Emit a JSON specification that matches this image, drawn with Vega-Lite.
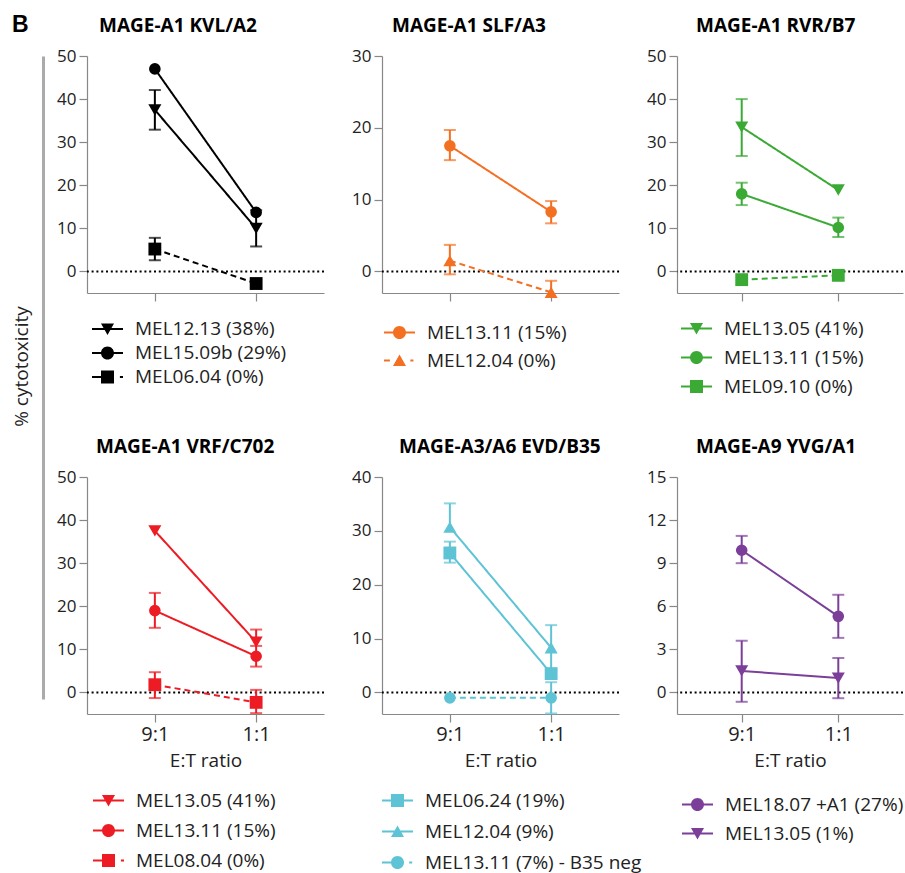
{
"$schema": "https://vega.github.io/schema/vega-lite/v6.json",
"padding": {"left": 12, "top": 14, "right": 0, "bottom": 0},
"data": {"values": [
{"panel":"KVL","series":"MEL12.13 (38%)","ratio":"9:1","value":37.5,"lo":32.9,"hi":42.1},
{"panel":"KVL","series":"MEL12.13 (38%)","ratio":"1:1","value":10.0,"lo":5.8,"hi":14.2},
{"panel":"KVL","series":"MEL15.09b (29%)","ratio":"9:1","value":47.0,"lo":null,"hi":null},
{"panel":"KVL","series":"MEL15.09b (29%)","ratio":"1:1","value":13.7,"lo":null,"hi":null},
{"panel":"KVL","series":"MEL06.04 (0%)","ratio":"9:1","value":5.2,"lo":2.6,"hi":7.8},
{"panel":"KVL","series":"MEL06.04 (0%)","ratio":"1:1","value":-2.8,"lo":null,"hi":null},
{"panel":"SLF","series":"MEL13.11 (15%)","ratio":"9:1","value":17.5,"lo":15.5,"hi":19.7},
{"panel":"SLF","series":"MEL13.11 (15%)","ratio":"1:1","value":8.3,"lo":6.7,"hi":9.8},
{"panel":"SLF","series":"MEL12.04 (0%)","ratio":"9:1","value":1.5,"lo":-0.4,"hi":3.7},
{"panel":"SLF","series":"MEL12.04 (0%)","ratio":"1:1","value":-2.9,"lo":null,"hi":-1.3},
{"panel":"RVR","series":"MEL13.05 (41%)","ratio":"9:1","value":33.5,"lo":26.8,"hi":40.0},
{"panel":"RVR","series":"MEL13.05 (41%)","ratio":"1:1","value":18.9,"lo":null,"hi":null},
{"panel":"RVR","series":"MEL13.11 (15%)","ratio":"9:1","value":18.0,"lo":15.4,"hi":20.6},
{"panel":"RVR","series":"MEL13.11 (15%)","ratio":"1:1","value":10.2,"lo":8.0,"hi":12.5},
{"panel":"RVR","series":"MEL09.10 (0%)","ratio":"9:1","value":-1.9,"lo":null,"hi":null},
{"panel":"RVR","series":"MEL09.10 (0%)","ratio":"1:1","value":-0.9,"lo":null,"hi":null},
{"panel":"VRF","series":"MEL13.05 (41%)","ratio":"9:1","value":37.5,"lo":null,"hi":null},
{"panel":"VRF","series":"MEL13.05 (41%)","ratio":"1:1","value":11.7,"lo":null,"hi":14.6},
{"panel":"VRF","series":"MEL13.11 (15%)","ratio":"9:1","value":19.0,"lo":15.0,"hi":23.1},
{"panel":"VRF","series":"MEL13.11 (15%)","ratio":"1:1","value":8.4,"lo":6.0,"hi":10.8},
{"panel":"VRF","series":"MEL08.04 (0%)","ratio":"9:1","value":1.8,"lo":-1.3,"hi":4.7},
{"panel":"VRF","series":"MEL08.04 (0%)","ratio":"1:1","value":-2.3,"lo":-4.8,"hi":0.6},
{"panel":"EVD","series":"MEL06.24 (19%)","ratio":"9:1","value":25.9,"lo":24.1,"hi":28.0},
{"panel":"EVD","series":"MEL06.24 (19%)","ratio":"1:1","value":3.5,"lo":null,"hi":null},
{"panel":"EVD","series":"MEL12.04 (9%)","ratio":"9:1","value":30.7,"lo":null,"hi":35.1},
{"panel":"EVD","series":"MEL12.04 (9%)","ratio":"1:1","value":8.3,"lo":4.1,"hi":12.5},
{"panel":"EVD","series":"MEL13.11 (7%) - B35 neg","ratio":"9:1","value":-1.0,"lo":null,"hi":null},
{"panel":"EVD","series":"MEL13.11 (7%) - B35 neg","ratio":"1:1","value":-1.0,"lo":-3.9,"hi":1.9},
{"panel":"YVG","series":"MEL18.07 +A1 (27%)","ratio":"9:1","value":9.9,"lo":9.0,"hi":10.9},
{"panel":"YVG","series":"MEL18.07 +A1 (27%)","ratio":"1:1","value":5.3,"lo":3.8,"hi":6.8},
{"panel":"YVG","series":"MEL13.05 (1%)","ratio":"9:1","value":1.5,"lo":-0.65,"hi":3.6},
{"panel":"YVG","series":"MEL13.05 (1%)","ratio":"1:1","value":1.0,"lo":-0.4,"hi":2.4}
]},
"config": {
 "view": {"stroke": null},
 "font": "Open Sans",
 "axis": {"domainColor": "#888", "tickColor": "#888", "tickSize": 8, "domainWidth": 1.2, "tickWidth": 1.2, "labelFont": "Open Sans", "labelColor": "#222", "titleFont": "Open Sans", "titleColor": "#222", "titleFontWeight": "normal", "grid": false},
 "axisY": {"labelFontSize": 17, "labelPadding": 3},
 "axisX": {"labelFontSize": 20, "labelPadding": 2, "labelAngle": 0, "titleFontSize": 19, "titlePadding": 7},
 "title": {"font": "Open Sans", "fontSize": 19, "fontWeight": "bold", "color": "#000", "anchor": "start", "frame": "group", "baseline": "alphabetic", "offset": 11},
 "legend": {"labelFont": "Open Sans", "labelFontSize": 19, "labelColor": "#222", "labelLimit": 0, "symbolSize": 961, "symbolStrokeWidth": 0, "symbolOpacity": 1, "labelOffset": 12, "padding": 0, "rowPadding": 0, "direction": "vertical"},
 "tick": {"thickness": 2}
},
"hconcat": [
 {
  "width": 1, "height": 643,
  "title": {"text": "B", "font": "Liberation Sans", "fontSize": 23, "fontWeight": "bold", "dx": -31, "offset": 16},
  "data": {"values": [{"v": 0}, {"v": 1}]},
  "mark": {"type": "point", "opacity": 0},
  "encoding": {"y": {"field": "v", "type": "quantitative", "axis": {"domainColor": "#aaa", "domainWidth": 3, "ticks": false, "labels": false, "title": "% cytotoxicity", "titleFontSize": 19, "titlePadding": 12, "titleY": 310}}}
 },
 {
  "vconcat": [
   {
    "hconcat": [
     {
      "width": 237, "height": 237,
      "title": {"text": "MAGE-A1 KVL/A2", "dx": 12},
      "transform": [{"filter": "datum.panel === 'KVL'"}],
      "layer": [
       {"transform": [{"aggregate": [{"op": "count", "as": "n"}]}], "mark": {"type": "rule", "color": "#000", "strokeWidth": 2, "strokeDash": [2, 2.8]}, "encoding": {"y": {"datum": 0, "type": "quantitative", "scale": {"domain": [-5, 50], "nice": false, "zero": false}, "axis": {"values": [0, 10, 20, 30, 40, 50], "title": null}}}},
       {"mark": {"type": "line", "color": "#000", "strokeWidth": 2}, "encoding": {"x": {"field": "ratio", "type": "ordinal", "sort": ["9:1", "1:1"], "scale": {"type": "point", "padding": 0.67}, "axis": {"labels": false, "title": null}}, "y": {"field": "value", "type": "quantitative", "scale": {"domain": [-5, 50], "nice": false, "zero": false}, "axis": {"values": [0, 10, 20, 30, 40, 50], "title": null}}, "strokeDash": {"field": "series", "type": "nominal", "scale": {"domain": ["MEL12.13 (38%)", "MEL15.09b (29%)", "MEL06.04 (0%)"], "range": [[1, 0], [1, 0], [6, 4]]}, "legend": null}}},
       {"transform": [{"filter": "datum.hi != null"}], "mark": {"type": "rule", "color": "#000", "strokeWidth": 2}, "encoding": {"x": {"field": "ratio", "type": "ordinal", "sort": ["9:1", "1:1"], "scale": {"type": "point", "padding": 0.67}, "axis": {"labels": false, "title": null}}, "y": {"field": "value", "type": "quantitative", "scale": {"domain": [-5, 50], "nice": false, "zero": false}, "axis": {"values": [0, 10, 20, 30, 40, 50], "title": null}}, "y2": {"field": "hi"}}},
       {"transform": [{"filter": "datum.hi != null"}], "mark": {"type": "tick", "color": "#000", "size": 12}, "encoding": {"x": {"field": "ratio", "type": "ordinal", "sort": ["9:1", "1:1"], "scale": {"type": "point", "padding": 0.67}, "axis": {"labels": false, "title": null}}, "y": {"field": "hi", "type": "quantitative", "scale": {"domain": [-5, 50], "nice": false, "zero": false}, "axis": {"values": [0, 10, 20, 30, 40, 50], "title": null}}}},
       {"transform": [{"filter": "datum.lo != null"}], "mark": {"type": "rule", "color": "#000", "strokeWidth": 2}, "encoding": {"x": {"field": "ratio", "type": "ordinal", "sort": ["9:1", "1:1"], "scale": {"type": "point", "padding": 0.67}, "axis": {"labels": false, "title": null}}, "y": {"field": "lo", "type": "quantitative", "scale": {"domain": [-5, 50], "nice": false, "zero": false}, "axis": {"values": [0, 10, 20, 30, 40, 50], "title": null}}, "y2": {"field": "value"}}},
       {"transform": [{"filter": "datum.lo != null"}], "mark": {"type": "tick", "color": "#000", "size": 12}, "encoding": {"x": {"field": "ratio", "type": "ordinal", "sort": ["9:1", "1:1"], "scale": {"type": "point", "padding": 0.67}, "axis": {"labels": false, "title": null}}, "y": {"field": "lo", "type": "quantitative", "scale": {"domain": [-5, 50], "nice": false, "zero": false}, "axis": {"values": [0, 10, 20, 30, 40, 50], "title": null}}}},
       {"transform": [{"filter": "datum.series === 'MEL12.13 (38%)'"}], "mark": {"type": "point", "filled": true, "opacity": 1, "size": 170, "shape": "triangle-down", "color": "#000"}, "encoding": {"x": {"field": "ratio", "type": "ordinal", "sort": ["9:1", "1:1"], "scale": {"type": "point", "padding": 0.67}, "axis": {"labels": false, "title": null}}, "y": {"field": "value", "type": "quantitative", "scale": {"domain": [-5, 50], "nice": false, "zero": false}, "axis": {"values": [0, 10, 20, 30, 40, 50], "title": null}}}},
       {"transform": [{"filter": "datum.series === 'MEL15.09b (29%)'"}], "mark": {"type": "point", "filled": true, "opacity": 1, "size": 135, "shape": "circle", "color": "#000"}, "encoding": {"x": {"field": "ratio", "type": "ordinal", "sort": ["9:1", "1:1"], "scale": {"type": "point", "padding": 0.67}, "axis": {"labels": false, "title": null}}, "y": {"field": "value", "type": "quantitative", "scale": {"domain": [-5, 50], "nice": false, "zero": false}, "axis": {"values": [0, 10, 20, 30, 40, 50], "title": null}}}},
       {"transform": [{"filter": "datum.series === 'MEL06.04 (0%)'"}], "mark": {"type": "point", "filled": true, "opacity": 1, "size": 165, "shape": "square", "color": "#000"}, "encoding": {"x": {"field": "ratio", "type": "ordinal", "sort": ["9:1", "1:1"], "scale": {"type": "point", "padding": 0.67}, "axis": {"labels": false, "title": null}}, "y": {"field": "value", "type": "quantitative", "scale": {"domain": [-5, 50], "nice": false, "zero": false}, "axis": {"values": [0, 10, 20, 30, 40, 50], "title": null}}}},
       {"mark": {"type": "point", "filled": true, "opacity": 0, "size": 961, "color": "#000"}, "encoding": {"x": {"field": "ratio", "type": "ordinal", "sort": ["9:1", "1:1"], "scale": {"type": "point", "padding": 0.67}, "axis": {"labels": false, "title": null}}, "y": {"field": "value", "type": "quantitative", "scale": {"domain": [-5, 50], "nice": false, "zero": false}, "axis": {"values": [0, 10, 20, 30, 40, 50], "title": null}}, "shape": {"field": "series", "type": "nominal", "scale": {"domain": ["MEL12.13 (38%)", "MEL15.09b (29%)", "MEL06.04 (0%)"], "range": ["M-1,-0.065L1,-0.065L1,0.065L-1,0.065ZM-0.42,-0.36L0.42,-0.36L0,0.38Z", "M-1,-0.065L1,-0.065L1,0.065L-1,0.065ZM0.42,0A0.42,0.42,0,1,1,-0.42,0A0.42,0.42,0,1,1,0.42,0Z", "M-1,-0.065L-0.42,-0.065L-0.42,0.065L-1,0.065ZM0.8,-0.065L1,-0.065L1,0.065L0.8,0.065ZM-0.42,-0.42L0.42,-0.42L0.42,0.42L-0.42,0.42Z"]}, "legend": {"title": null, "orient": "none", "legendX": 5, "legendY": 261, "clipHeight": 24, "symbolFillColor": "#000"}}}}
      ],
      "resolve": {"scale": {"shape": "independent"}, "legend": {"shape": "independent"}}
     },
     {
      "width": 237, "height": 237,
      "title": {"text": "MAGE-A1 SLF/A3", "dx": 10},
      "transform": [{"filter": "datum.panel === 'SLF'"}],
      "layer": [
       {"transform": [{"aggregate": [{"op": "count", "as": "n"}]}], "mark": {"type": "rule", "color": "#000", "strokeWidth": 2, "strokeDash": [2, 2.8]}, "encoding": {"y": {"datum": 0, "type": "quantitative", "scale": {"domain": [-3, 30], "nice": false, "zero": false}, "axis": {"values": [0, 10, 20, 30], "title": null}}}},
       {"mark": {"type": "line", "color": "#F36F21", "strokeWidth": 2}, "encoding": {"x": {"field": "ratio", "type": "ordinal", "sort": ["9:1", "1:1"], "scale": {"type": "point", "padding": 0.67}, "axis": {"labels": false, "title": null}}, "y": {"field": "value", "type": "quantitative", "scale": {"domain": [-3, 30], "nice": false, "zero": false}, "axis": {"values": [0, 10, 20, 30], "title": null}}, "strokeDash": {"field": "series", "type": "nominal", "scale": {"domain": ["MEL13.11 (15%)", "MEL12.04 (0%)"], "range": [[1, 0], [6, 4]]}, "legend": null}}},
       {"transform": [{"filter": "datum.hi != null"}], "mark": {"type": "rule", "color": "#F36F21", "strokeWidth": 2}, "encoding": {"x": {"field": "ratio", "type": "ordinal", "sort": ["9:1", "1:1"], "scale": {"type": "point", "padding": 0.67}, "axis": {"labels": false, "title": null}}, "y": {"field": "value", "type": "quantitative", "scale": {"domain": [-3, 30], "nice": false, "zero": false}, "axis": {"values": [0, 10, 20, 30], "title": null}}, "y2": {"field": "hi"}}},
       {"transform": [{"filter": "datum.hi != null"}], "mark": {"type": "tick", "color": "#F36F21", "size": 12}, "encoding": {"x": {"field": "ratio", "type": "ordinal", "sort": ["9:1", "1:1"], "scale": {"type": "point", "padding": 0.67}, "axis": {"labels": false, "title": null}}, "y": {"field": "hi", "type": "quantitative", "scale": {"domain": [-3, 30], "nice": false, "zero": false}, "axis": {"values": [0, 10, 20, 30], "title": null}}}},
       {"transform": [{"filter": "datum.lo != null"}], "mark": {"type": "rule", "color": "#F36F21", "strokeWidth": 2}, "encoding": {"x": {"field": "ratio", "type": "ordinal", "sort": ["9:1", "1:1"], "scale": {"type": "point", "padding": 0.67}, "axis": {"labels": false, "title": null}}, "y": {"field": "lo", "type": "quantitative", "scale": {"domain": [-3, 30], "nice": false, "zero": false}, "axis": {"values": [0, 10, 20, 30], "title": null}}, "y2": {"field": "value"}}},
       {"transform": [{"filter": "datum.lo != null"}], "mark": {"type": "tick", "color": "#F36F21", "size": 12}, "encoding": {"x": {"field": "ratio", "type": "ordinal", "sort": ["9:1", "1:1"], "scale": {"type": "point", "padding": 0.67}, "axis": {"labels": false, "title": null}}, "y": {"field": "lo", "type": "quantitative", "scale": {"domain": [-3, 30], "nice": false, "zero": false}, "axis": {"values": [0, 10, 20, 30], "title": null}}}},
       {"transform": [{"filter": "datum.series === 'MEL13.11 (15%)'"}], "mark": {"type": "point", "filled": true, "opacity": 1, "size": 135, "shape": "circle", "color": "#F36F21"}, "encoding": {"x": {"field": "ratio", "type": "ordinal", "sort": ["9:1", "1:1"], "scale": {"type": "point", "padding": 0.67}, "axis": {"labels": false, "title": null}}, "y": {"field": "value", "type": "quantitative", "scale": {"domain": [-3, 30], "nice": false, "zero": false}, "axis": {"values": [0, 10, 20, 30], "title": null}}}},
       {"transform": [{"filter": "datum.series === 'MEL12.04 (0%)'"}], "mark": {"type": "point", "filled": true, "opacity": 1, "size": 170, "shape": "triangle-up", "color": "#F36F21"}, "encoding": {"x": {"field": "ratio", "type": "ordinal", "sort": ["9:1", "1:1"], "scale": {"type": "point", "padding": 0.67}, "axis": {"labels": false, "title": null}}, "y": {"field": "value", "type": "quantitative", "scale": {"domain": [-3, 30], "nice": false, "zero": false}, "axis": {"values": [0, 10, 20, 30], "title": null}}}},
       {"mark": {"type": "point", "filled": true, "opacity": 0, "size": 961, "color": "#F36F21"}, "encoding": {"x": {"field": "ratio", "type": "ordinal", "sort": ["9:1", "1:1"], "scale": {"type": "point", "padding": 0.67}, "axis": {"labels": false, "title": null}}, "y": {"field": "value", "type": "quantitative", "scale": {"domain": [-3, 30], "nice": false, "zero": false}, "axis": {"values": [0, 10, 20, 30], "title": null}}, "shape": {"field": "series", "type": "nominal", "scale": {"domain": ["MEL13.11 (15%)", "MEL12.04 (0%)"], "range": ["M-1,-0.065L1,-0.065L1,0.065L-1,0.065ZM0.42,0A0.42,0.42,0,1,1,-0.42,0A0.42,0.42,0,1,1,0.42,0Z", "M-1,-0.065L-0.62,-0.065L-0.62,0.065L-1,0.065ZM0.7,-0.065L0.9,-0.065L0.9,0.065L0.7,0.065ZM0.42,0.36L-0.42,0.36L0,-0.38Z"]}, "legend": {"title": null, "orient": "none", "legendX": 2, "legendY": 262.5, "clipHeight": 28, "symbolFillColor": "#F36F21"}}}}
      ],
      "resolve": {"scale": {"shape": "independent"}, "legend": {"shape": "independent"}}
     },
     {
      "width": 226, "height": 237,
      "title": {"text": "MAGE-A1 RVR/B7", "dx": 19},
      "transform": [{"filter": "datum.panel === 'RVR'"}],
      "layer": [
       {"transform": [{"aggregate": [{"op": "count", "as": "n"}]}], "mark": {"type": "rule", "color": "#000", "strokeWidth": 2, "strokeDash": [2, 2.8]}, "encoding": {"y": {"datum": 0, "type": "quantitative", "scale": {"domain": [-5, 50], "nice": false, "zero": false}, "axis": {"values": [0, 10, 20, 30, 40, 50], "title": null}}}},
       {"mark": {"type": "line", "color": "#3AAA35", "strokeWidth": 2}, "encoding": {"x": {"field": "ratio", "type": "ordinal", "sort": ["9:1", "1:1"], "scale": {"type": "point", "padding": 0.67}, "axis": {"labels": false, "title": null}}, "y": {"field": "value", "type": "quantitative", "scale": {"domain": [-5, 50], "nice": false, "zero": false}, "axis": {"values": [0, 10, 20, 30, 40, 50], "title": null}}, "strokeDash": {"field": "series", "type": "nominal", "scale": {"domain": ["MEL13.05 (41%)", "MEL13.11 (15%)", "MEL09.10 (0%)"], "range": [[1, 0], [1, 0], [6, 4]]}, "legend": null}, "strokeWidth": {"field": "series", "type": "nominal", "scale": {"domain": ["MEL13.05 (41%)", "MEL13.11 (15%)", "MEL09.10 (0%)"], "range": [2, 3, 3]}, "legend": null}}},
       {"transform": [{"filter": "datum.hi != null"}], "mark": {"type": "rule", "color": "#3AAA35", "strokeWidth": 2}, "encoding": {"x": {"field": "ratio", "type": "ordinal", "sort": ["9:1", "1:1"], "scale": {"type": "point", "padding": 0.67}, "axis": {"labels": false, "title": null}}, "y": {"field": "value", "type": "quantitative", "scale": {"domain": [-5, 50], "nice": false, "zero": false}, "axis": {"values": [0, 10, 20, 30, 40, 50], "title": null}}, "y2": {"field": "hi"}}},
       {"transform": [{"filter": "datum.hi != null"}], "mark": {"type": "tick", "color": "#3AAA35", "size": 12}, "encoding": {"x": {"field": "ratio", "type": "ordinal", "sort": ["9:1", "1:1"], "scale": {"type": "point", "padding": 0.67}, "axis": {"labels": false, "title": null}}, "y": {"field": "hi", "type": "quantitative", "scale": {"domain": [-5, 50], "nice": false, "zero": false}, "axis": {"values": [0, 10, 20, 30, 40, 50], "title": null}}}},
       {"transform": [{"filter": "datum.lo != null"}], "mark": {"type": "rule", "color": "#3AAA35", "strokeWidth": 2}, "encoding": {"x": {"field": "ratio", "type": "ordinal", "sort": ["9:1", "1:1"], "scale": {"type": "point", "padding": 0.67}, "axis": {"labels": false, "title": null}}, "y": {"field": "lo", "type": "quantitative", "scale": {"domain": [-5, 50], "nice": false, "zero": false}, "axis": {"values": [0, 10, 20, 30, 40, 50], "title": null}}, "y2": {"field": "value"}}},
       {"transform": [{"filter": "datum.lo != null"}], "mark": {"type": "tick", "color": "#3AAA35", "size": 12}, "encoding": {"x": {"field": "ratio", "type": "ordinal", "sort": ["9:1", "1:1"], "scale": {"type": "point", "padding": 0.67}, "axis": {"labels": false, "title": null}}, "y": {"field": "lo", "type": "quantitative", "scale": {"domain": [-5, 50], "nice": false, "zero": false}, "axis": {"values": [0, 10, 20, 30, 40, 50], "title": null}}}},
       {"transform": [{"filter": "datum.series === 'MEL13.05 (41%)'"}], "mark": {"type": "point", "filled": true, "opacity": 1, "size": 170, "shape": "triangle-down", "color": "#3AAA35"}, "encoding": {"x": {"field": "ratio", "type": "ordinal", "sort": ["9:1", "1:1"], "scale": {"type": "point", "padding": 0.67}, "axis": {"labels": false, "title": null}}, "y": {"field": "value", "type": "quantitative", "scale": {"domain": [-5, 50], "nice": false, "zero": false}, "axis": {"values": [0, 10, 20, 30, 40, 50], "title": null}}}},
       {"transform": [{"filter": "datum.series === 'MEL13.11 (15%)'"}], "mark": {"type": "point", "filled": true, "opacity": 1, "size": 135, "shape": "circle", "color": "#3AAA35"}, "encoding": {"x": {"field": "ratio", "type": "ordinal", "sort": ["9:1", "1:1"], "scale": {"type": "point", "padding": 0.67}, "axis": {"labels": false, "title": null}}, "y": {"field": "value", "type": "quantitative", "scale": {"domain": [-5, 50], "nice": false, "zero": false}, "axis": {"values": [0, 10, 20, 30, 40, 50], "title": null}}}},
       {"transform": [{"filter": "datum.series === 'MEL09.10 (0%)'"}], "mark": {"type": "point", "filled": true, "opacity": 1, "size": 165, "shape": "square", "color": "#3AAA35"}, "encoding": {"x": {"field": "ratio", "type": "ordinal", "sort": ["9:1", "1:1"], "scale": {"type": "point", "padding": 0.67}, "axis": {"labels": false, "title": null}}, "y": {"field": "value", "type": "quantitative", "scale": {"domain": [-5, 50], "nice": false, "zero": false}, "axis": {"values": [0, 10, 20, 30, 40, 50], "title": null}}}},
       {"mark": {"type": "point", "filled": true, "opacity": 0, "size": 961, "color": "#3AAA35"}, "encoding": {"x": {"field": "ratio", "type": "ordinal", "sort": ["9:1", "1:1"], "scale": {"type": "point", "padding": 0.67}, "axis": {"labels": false, "title": null}}, "y": {"field": "value", "type": "quantitative", "scale": {"domain": [-5, 50], "nice": false, "zero": false}, "axis": {"values": [0, 10, 20, 30, 40, 50], "title": null}}, "shape": {"field": "series", "type": "nominal", "scale": {"domain": ["MEL13.05 (41%)", "MEL13.11 (15%)", "MEL09.10 (0%)"], "range": ["M-1,-0.065L1,-0.065L1,0.065L-1,0.065ZM-0.42,-0.36L0.42,-0.36L0,0.38Z", "M-1,-0.065L1,-0.065L1,0.065L-1,0.065ZM0.42,0A0.42,0.42,0,1,1,-0.42,0A0.42,0.42,0,1,1,0.42,0Z", "M-1,-0.065L1,-0.065L1,0.065L-1,0.065ZM-0.42,-0.42L0.42,-0.42L0.42,0.42L-0.42,0.42Z"]}, "legend": {"title": null, "orient": "none", "legendX": 4, "legendY": 258, "clipHeight": 29, "symbolFillColor": "#3AAA35"}}}}
      ],
      "resolve": {"scale": {"shape": "independent"}, "legend": {"shape": "independent"}}
     }
    ],
    "spacing": 58, "bounds": "flush",
    "resolve": {"scale": {"x": "independent", "y": "independent", "shape": "independent", "strokeDash": "independent", "strokeWidth": "independent"}, "legend": {"shape": "independent"}}
   },
   {
    "hconcat": [
     {
      "width": 237, "height": 237,
      "title": {"text": "MAGE-A1 VRF/C702", "dx": 9},
      "transform": [{"filter": "datum.panel === 'VRF'"}],
      "layer": [
       {"transform": [{"aggregate": [{"op": "count", "as": "n"}]}], "mark": {"type": "rule", "color": "#000", "strokeWidth": 2, "strokeDash": [2, 2.8]}, "encoding": {"y": {"datum": 0, "type": "quantitative", "scale": {"domain": [-5, 50], "nice": false, "zero": false}, "axis": {"values": [0, 10, 20, 30, 40, 50], "title": null}}}},
       {"mark": {"type": "line", "color": "#ED1C24", "strokeWidth": 2}, "encoding": {"x": {"field": "ratio", "type": "ordinal", "sort": ["9:1", "1:1"], "scale": {"type": "point", "padding": 0.67}, "axis": {"title": "E:T ratio"}}, "y": {"field": "value", "type": "quantitative", "scale": {"domain": [-5, 50], "nice": false, "zero": false}, "axis": {"values": [0, 10, 20, 30, 40, 50], "title": null}}, "strokeDash": {"field": "series", "type": "nominal", "scale": {"domain": ["MEL13.05 (41%)", "MEL13.11 (15%)", "MEL08.04 (0%)"], "range": [[1, 0], [1, 0], [6, 4]]}, "legend": null}}},
       {"transform": [{"filter": "datum.hi != null"}], "mark": {"type": "rule", "color": "#ED1C24", "strokeWidth": 2}, "encoding": {"x": {"field": "ratio", "type": "ordinal", "sort": ["9:1", "1:1"], "scale": {"type": "point", "padding": 0.67}, "axis": {"title": "E:T ratio"}}, "y": {"field": "value", "type": "quantitative", "scale": {"domain": [-5, 50], "nice": false, "zero": false}, "axis": {"values": [0, 10, 20, 30, 40, 50], "title": null}}, "y2": {"field": "hi"}}},
       {"transform": [{"filter": "datum.hi != null"}], "mark": {"type": "tick", "color": "#ED1C24", "size": 12}, "encoding": {"x": {"field": "ratio", "type": "ordinal", "sort": ["9:1", "1:1"], "scale": {"type": "point", "padding": 0.67}, "axis": {"title": "E:T ratio"}}, "y": {"field": "hi", "type": "quantitative", "scale": {"domain": [-5, 50], "nice": false, "zero": false}, "axis": {"values": [0, 10, 20, 30, 40, 50], "title": null}}}},
       {"transform": [{"filter": "datum.lo != null"}], "mark": {"type": "rule", "color": "#ED1C24", "strokeWidth": 2}, "encoding": {"x": {"field": "ratio", "type": "ordinal", "sort": ["9:1", "1:1"], "scale": {"type": "point", "padding": 0.67}, "axis": {"title": "E:T ratio"}}, "y": {"field": "lo", "type": "quantitative", "scale": {"domain": [-5, 50], "nice": false, "zero": false}, "axis": {"values": [0, 10, 20, 30, 40, 50], "title": null}}, "y2": {"field": "value"}}},
       {"transform": [{"filter": "datum.lo != null"}], "mark": {"type": "tick", "color": "#ED1C24", "size": 12}, "encoding": {"x": {"field": "ratio", "type": "ordinal", "sort": ["9:1", "1:1"], "scale": {"type": "point", "padding": 0.67}, "axis": {"title": "E:T ratio"}}, "y": {"field": "lo", "type": "quantitative", "scale": {"domain": [-5, 50], "nice": false, "zero": false}, "axis": {"values": [0, 10, 20, 30, 40, 50], "title": null}}}},
       {"transform": [{"filter": "datum.series === 'MEL13.05 (41%)'"}], "mark": {"type": "point", "filled": true, "opacity": 1, "size": 170, "shape": "triangle-down", "color": "#ED1C24"}, "encoding": {"x": {"field": "ratio", "type": "ordinal", "sort": ["9:1", "1:1"], "scale": {"type": "point", "padding": 0.67}, "axis": {"title": "E:T ratio"}}, "y": {"field": "value", "type": "quantitative", "scale": {"domain": [-5, 50], "nice": false, "zero": false}, "axis": {"values": [0, 10, 20, 30, 40, 50], "title": null}}}},
       {"transform": [{"filter": "datum.series === 'MEL13.11 (15%)'"}], "mark": {"type": "point", "filled": true, "opacity": 1, "size": 135, "shape": "circle", "color": "#ED1C24"}, "encoding": {"x": {"field": "ratio", "type": "ordinal", "sort": ["9:1", "1:1"], "scale": {"type": "point", "padding": 0.67}, "axis": {"title": "E:T ratio"}}, "y": {"field": "value", "type": "quantitative", "scale": {"domain": [-5, 50], "nice": false, "zero": false}, "axis": {"values": [0, 10, 20, 30, 40, 50], "title": null}}}},
       {"transform": [{"filter": "datum.series === 'MEL08.04 (0%)'"}], "mark": {"type": "point", "filled": true, "opacity": 1, "size": 165, "shape": "square", "color": "#ED1C24"}, "encoding": {"x": {"field": "ratio", "type": "ordinal", "sort": ["9:1", "1:1"], "scale": {"type": "point", "padding": 0.67}, "axis": {"title": "E:T ratio"}}, "y": {"field": "value", "type": "quantitative", "scale": {"domain": [-5, 50], "nice": false, "zero": false}, "axis": {"values": [0, 10, 20, 30, 40, 50], "title": null}}}},
       {"mark": {"type": "point", "filled": true, "opacity": 0, "size": 961, "color": "#ED1C24"}, "encoding": {"x": {"field": "ratio", "type": "ordinal", "sort": ["9:1", "1:1"], "scale": {"type": "point", "padding": 0.67}, "axis": {"title": "E:T ratio"}}, "y": {"field": "value", "type": "quantitative", "scale": {"domain": [-5, 50], "nice": false, "zero": false}, "axis": {"values": [0, 10, 20, 30, 40, 50], "title": null}}, "shape": {"field": "series", "type": "nominal", "scale": {"domain": ["MEL13.05 (41%)", "MEL13.11 (15%)", "MEL08.04 (0%)"], "range": ["M-1,-0.065L1,-0.065L1,0.065L-1,0.065ZM-0.42,-0.36L0.42,-0.36L0,0.38Z", "M-1,-0.065L1,-0.065L1,0.065L-1,0.065ZM0.42,0A0.42,0.42,0,1,1,-0.42,0A0.42,0.42,0,1,1,0.42,0Z", "M-1,-0.065L-0.42,-0.065L-0.42,0.065L-1,0.065ZM0.8,-0.065L1,-0.065L1,0.065L0.8,0.065ZM-0.42,-0.42L0.42,-0.42L0.42,0.42L-0.42,0.42Z"]}, "legend": {"title": null, "orient": "none", "legendX": 6, "legendY": 308.5, "clipHeight": 30, "symbolFillColor": "#ED1C24"}}}}
      ],
      "resolve": {"scale": {"shape": "independent"}, "legend": {"shape": "independent"}}
     },
     {
      "width": 237, "height": 237,
      "title": {"text": "MAGE-A3/A6 EVD/B35", "dx": 17},
      "transform": [{"filter": "datum.panel === 'EVD'"}],
      "layer": [
       {"transform": [{"aggregate": [{"op": "count", "as": "n"}]}], "mark": {"type": "rule", "color": "#000", "strokeWidth": 2, "strokeDash": [2, 2.8]}, "encoding": {"y": {"datum": 0, "type": "quantitative", "scale": {"domain": [-4, 40], "nice": false, "zero": false}, "axis": {"values": [0, 10, 20, 30, 40], "title": null}}}},
       {"mark": {"type": "line", "color": "#5DC3D5", "strokeWidth": 2}, "encoding": {"x": {"field": "ratio", "type": "ordinal", "sort": ["9:1", "1:1"], "scale": {"type": "point", "padding": 0.67}, "axis": {"title": "E:T ratio"}}, "y": {"field": "value", "type": "quantitative", "scale": {"domain": [-4, 40], "nice": false, "zero": false}, "axis": {"values": [0, 10, 20, 30, 40], "title": null}}, "strokeDash": {"field": "series", "type": "nominal", "scale": {"domain": ["MEL06.24 (19%)", "MEL12.04 (9%)", "MEL13.11 (7%) - B35 neg"], "range": [[1, 0], [1, 0], [6, 4]]}, "legend": null}}},
       {"transform": [{"filter": "datum.hi != null"}], "mark": {"type": "rule", "color": "#5DC3D5", "strokeWidth": 2}, "encoding": {"x": {"field": "ratio", "type": "ordinal", "sort": ["9:1", "1:1"], "scale": {"type": "point", "padding": 0.67}, "axis": {"title": "E:T ratio"}}, "y": {"field": "value", "type": "quantitative", "scale": {"domain": [-4, 40], "nice": false, "zero": false}, "axis": {"values": [0, 10, 20, 30, 40], "title": null}}, "y2": {"field": "hi"}}},
       {"transform": [{"filter": "datum.hi != null"}], "mark": {"type": "tick", "color": "#5DC3D5", "size": 12}, "encoding": {"x": {"field": "ratio", "type": "ordinal", "sort": ["9:1", "1:1"], "scale": {"type": "point", "padding": 0.67}, "axis": {"title": "E:T ratio"}}, "y": {"field": "hi", "type": "quantitative", "scale": {"domain": [-4, 40], "nice": false, "zero": false}, "axis": {"values": [0, 10, 20, 30, 40], "title": null}}}},
       {"transform": [{"filter": "datum.lo != null"}], "mark": {"type": "rule", "color": "#5DC3D5", "strokeWidth": 2}, "encoding": {"x": {"field": "ratio", "type": "ordinal", "sort": ["9:1", "1:1"], "scale": {"type": "point", "padding": 0.67}, "axis": {"title": "E:T ratio"}}, "y": {"field": "lo", "type": "quantitative", "scale": {"domain": [-4, 40], "nice": false, "zero": false}, "axis": {"values": [0, 10, 20, 30, 40], "title": null}}, "y2": {"field": "value"}}},
       {"transform": [{"filter": "datum.lo != null"}], "mark": {"type": "tick", "color": "#5DC3D5", "size": 12}, "encoding": {"x": {"field": "ratio", "type": "ordinal", "sort": ["9:1", "1:1"], "scale": {"type": "point", "padding": 0.67}, "axis": {"title": "E:T ratio"}}, "y": {"field": "lo", "type": "quantitative", "scale": {"domain": [-4, 40], "nice": false, "zero": false}, "axis": {"values": [0, 10, 20, 30, 40], "title": null}}}},
       {"transform": [{"filter": "datum.series === 'MEL06.24 (19%)'"}], "mark": {"type": "point", "filled": true, "opacity": 1, "size": 165, "shape": "square", "color": "#5DC3D5"}, "encoding": {"x": {"field": "ratio", "type": "ordinal", "sort": ["9:1", "1:1"], "scale": {"type": "point", "padding": 0.67}, "axis": {"title": "E:T ratio"}}, "y": {"field": "value", "type": "quantitative", "scale": {"domain": [-4, 40], "nice": false, "zero": false}, "axis": {"values": [0, 10, 20, 30, 40], "title": null}}}},
       {"transform": [{"filter": "datum.series === 'MEL12.04 (9%)'"}], "mark": {"type": "point", "filled": true, "opacity": 1, "size": 170, "shape": "triangle-up", "color": "#5DC3D5"}, "encoding": {"x": {"field": "ratio", "type": "ordinal", "sort": ["9:1", "1:1"], "scale": {"type": "point", "padding": 0.67}, "axis": {"title": "E:T ratio"}}, "y": {"field": "value", "type": "quantitative", "scale": {"domain": [-4, 40], "nice": false, "zero": false}, "axis": {"values": [0, 10, 20, 30, 40], "title": null}}}},
       {"transform": [{"filter": "datum.series === 'MEL13.11 (7%) - B35 neg'"}], "mark": {"type": "point", "filled": true, "opacity": 1, "size": 135, "shape": "circle", "color": "#5DC3D5"}, "encoding": {"x": {"field": "ratio", "type": "ordinal", "sort": ["9:1", "1:1"], "scale": {"type": "point", "padding": 0.67}, "axis": {"title": "E:T ratio"}}, "y": {"field": "value", "type": "quantitative", "scale": {"domain": [-4, 40], "nice": false, "zero": false}, "axis": {"values": [0, 10, 20, 30, 40], "title": null}}}},
       {"mark": {"type": "point", "filled": true, "opacity": 0, "size": 961, "color": "#5DC3D5"}, "encoding": {"x": {"field": "ratio", "type": "ordinal", "sort": ["9:1", "1:1"], "scale": {"type": "point", "padding": 0.67}, "axis": {"title": "E:T ratio"}}, "y": {"field": "value", "type": "quantitative", "scale": {"domain": [-4, 40], "nice": false, "zero": false}, "axis": {"values": [0, 10, 20, 30, 40], "title": null}}, "shape": {"field": "series", "type": "nominal", "scale": {"domain": ["MEL06.24 (19%)", "MEL12.04 (9%)", "MEL13.11 (7%) - B35 neg"], "range": ["M-1,-0.065L1,-0.065L1,0.065L-1,0.065ZM-0.42,-0.42L0.42,-0.42L0.42,0.42L-0.42,0.42Z", "M-1,-0.065L1,-0.065L1,0.065L-1,0.065ZM0.42,0.36L-0.42,0.36L0,-0.38Z", "M-1,-0.065L-0.42,-0.065L-0.42,0.065L-1,0.065ZM0.75,-0.065L0.95,-0.065L0.95,0.065L0.75,0.065ZM0.42,0A0.42,0.42,0,1,1,-0.42,0A0.42,0.42,0,1,1,0.42,0Z"]}, "legend": {"title": null, "orient": "none", "legendX": 0, "legendY": 308, "clipHeight": 31, "symbolFillColor": "#5DC3D5"}}}}
      ],
      "resolve": {"scale": {"shape": "independent"}, "legend": {"shape": "independent"}}
     },
     {
      "width": 226, "height": 237,
      "title": {"text": "MAGE-A9 YVG/A1", "dx": 19},
      "transform": [{"filter": "datum.panel === 'YVG'"}],
      "layer": [
       {"transform": [{"aggregate": [{"op": "count", "as": "n"}]}], "mark": {"type": "rule", "color": "#000", "strokeWidth": 2, "strokeDash": [2, 2.8]}, "encoding": {"y": {"datum": 0, "type": "quantitative", "scale": {"domain": [-1.5, 15], "nice": false, "zero": false}, "axis": {"values": [0, 3, 6, 9, 12, 15], "title": null}}}},
       {"mark": {"type": "line", "color": "#7B3F99", "strokeWidth": 2}, "encoding": {"x": {"field": "ratio", "type": "ordinal", "sort": ["9:1", "1:1"], "scale": {"type": "point", "padding": 0.67}, "axis": {"title": "E:T ratio"}}, "y": {"field": "value", "type": "quantitative", "scale": {"domain": [-1.5, 15], "nice": false, "zero": false}, "axis": {"values": [0, 3, 6, 9, 12, 15], "title": null}}, "detail": {"field": "series"}}},
       {"transform": [{"filter": "datum.hi != null"}], "mark": {"type": "rule", "color": "#7B3F99", "strokeWidth": 2}, "encoding": {"x": {"field": "ratio", "type": "ordinal", "sort": ["9:1", "1:1"], "scale": {"type": "point", "padding": 0.67}, "axis": {"title": "E:T ratio"}}, "y": {"field": "value", "type": "quantitative", "scale": {"domain": [-1.5, 15], "nice": false, "zero": false}, "axis": {"values": [0, 3, 6, 9, 12, 15], "title": null}}, "y2": {"field": "hi"}}},
       {"transform": [{"filter": "datum.hi != null"}], "mark": {"type": "tick", "color": "#7B3F99", "size": 12}, "encoding": {"x": {"field": "ratio", "type": "ordinal", "sort": ["9:1", "1:1"], "scale": {"type": "point", "padding": 0.67}, "axis": {"title": "E:T ratio"}}, "y": {"field": "hi", "type": "quantitative", "scale": {"domain": [-1.5, 15], "nice": false, "zero": false}, "axis": {"values": [0, 3, 6, 9, 12, 15], "title": null}}}},
       {"transform": [{"filter": "datum.lo != null"}], "mark": {"type": "rule", "color": "#7B3F99", "strokeWidth": 2}, "encoding": {"x": {"field": "ratio", "type": "ordinal", "sort": ["9:1", "1:1"], "scale": {"type": "point", "padding": 0.67}, "axis": {"title": "E:T ratio"}}, "y": {"field": "lo", "type": "quantitative", "scale": {"domain": [-1.5, 15], "nice": false, "zero": false}, "axis": {"values": [0, 3, 6, 9, 12, 15], "title": null}}, "y2": {"field": "value"}}},
       {"transform": [{"filter": "datum.lo != null"}], "mark": {"type": "tick", "color": "#7B3F99", "size": 12}, "encoding": {"x": {"field": "ratio", "type": "ordinal", "sort": ["9:1", "1:1"], "scale": {"type": "point", "padding": 0.67}, "axis": {"title": "E:T ratio"}}, "y": {"field": "lo", "type": "quantitative", "scale": {"domain": [-1.5, 15], "nice": false, "zero": false}, "axis": {"values": [0, 3, 6, 9, 12, 15], "title": null}}}},
       {"transform": [{"filter": "datum.series === 'MEL18.07 +A1 (27%)'"}], "mark": {"type": "point", "filled": true, "opacity": 1, "size": 135, "shape": "circle", "color": "#7B3F99"}, "encoding": {"x": {"field": "ratio", "type": "ordinal", "sort": ["9:1", "1:1"], "scale": {"type": "point", "padding": 0.67}, "axis": {"title": "E:T ratio"}}, "y": {"field": "value", "type": "quantitative", "scale": {"domain": [-1.5, 15], "nice": false, "zero": false}, "axis": {"values": [0, 3, 6, 9, 12, 15], "title": null}}}},
       {"transform": [{"filter": "datum.series === 'MEL13.05 (1%)'"}], "mark": {"type": "point", "filled": true, "opacity": 1, "size": 170, "shape": "triangle-down", "color": "#7B3F99"}, "encoding": {"x": {"field": "ratio", "type": "ordinal", "sort": ["9:1", "1:1"], "scale": {"type": "point", "padding": 0.67}, "axis": {"title": "E:T ratio"}}, "y": {"field": "value", "type": "quantitative", "scale": {"domain": [-1.5, 15], "nice": false, "zero": false}, "axis": {"values": [0, 3, 6, 9, 12, 15], "title": null}}}},
       {"mark": {"type": "point", "filled": true, "opacity": 0, "size": 961, "color": "#7B3F99"}, "encoding": {"x": {"field": "ratio", "type": "ordinal", "sort": ["9:1", "1:1"], "scale": {"type": "point", "padding": 0.67}, "axis": {"title": "E:T ratio"}}, "y": {"field": "value", "type": "quantitative", "scale": {"domain": [-1.5, 15], "nice": false, "zero": false}, "axis": {"values": [0, 3, 6, 9, 12, 15], "title": null}}, "shape": {"field": "series", "type": "nominal", "scale": {"domain": ["MEL18.07 +A1 (27%)", "MEL13.05 (1%)"], "range": ["M-1,-0.065L1,-0.065L1,0.065L-1,0.065ZM0.42,0A0.42,0.42,0,1,1,-0.42,0A0.42,0.42,0,1,1,0.42,0Z", "M-1,-0.065L1,-0.065L1,0.065L-1,0.065ZM-0.42,-0.36L0.42,-0.36L0,0.38Z"]}, "legend": {"title": null, "orient": "none", "legendX": 5, "legendY": 313, "clipHeight": 29, "symbolFillColor": "#7B3F99"}}}}
      ],
      "resolve": {"scale": {"shape": "independent"}, "legend": {"shape": "independent"}}
     }
    ],
    "spacing": 58, "bounds": "flush",
    "resolve": {"scale": {"x": "independent", "y": "independent", "shape": "independent", "strokeDash": "independent"}, "legend": {"shape": "independent"}}
   }
  ],
  "spacing": 421, "bounds": "flush",
  "resolve": {"scale": {"x": "independent", "y": "independent", "shape": "independent", "strokeDash": "independent", "strokeWidth": "independent"}, "legend": {"shape": "independent"}}
 }
],
"spacing": 43, "bounds": "flush",
"resolve": {"scale": {"x": "independent", "y": "independent", "shape": "independent", "strokeDash": "independent", "strokeWidth": "independent"}, "legend": {"shape": "independent"}}
}
